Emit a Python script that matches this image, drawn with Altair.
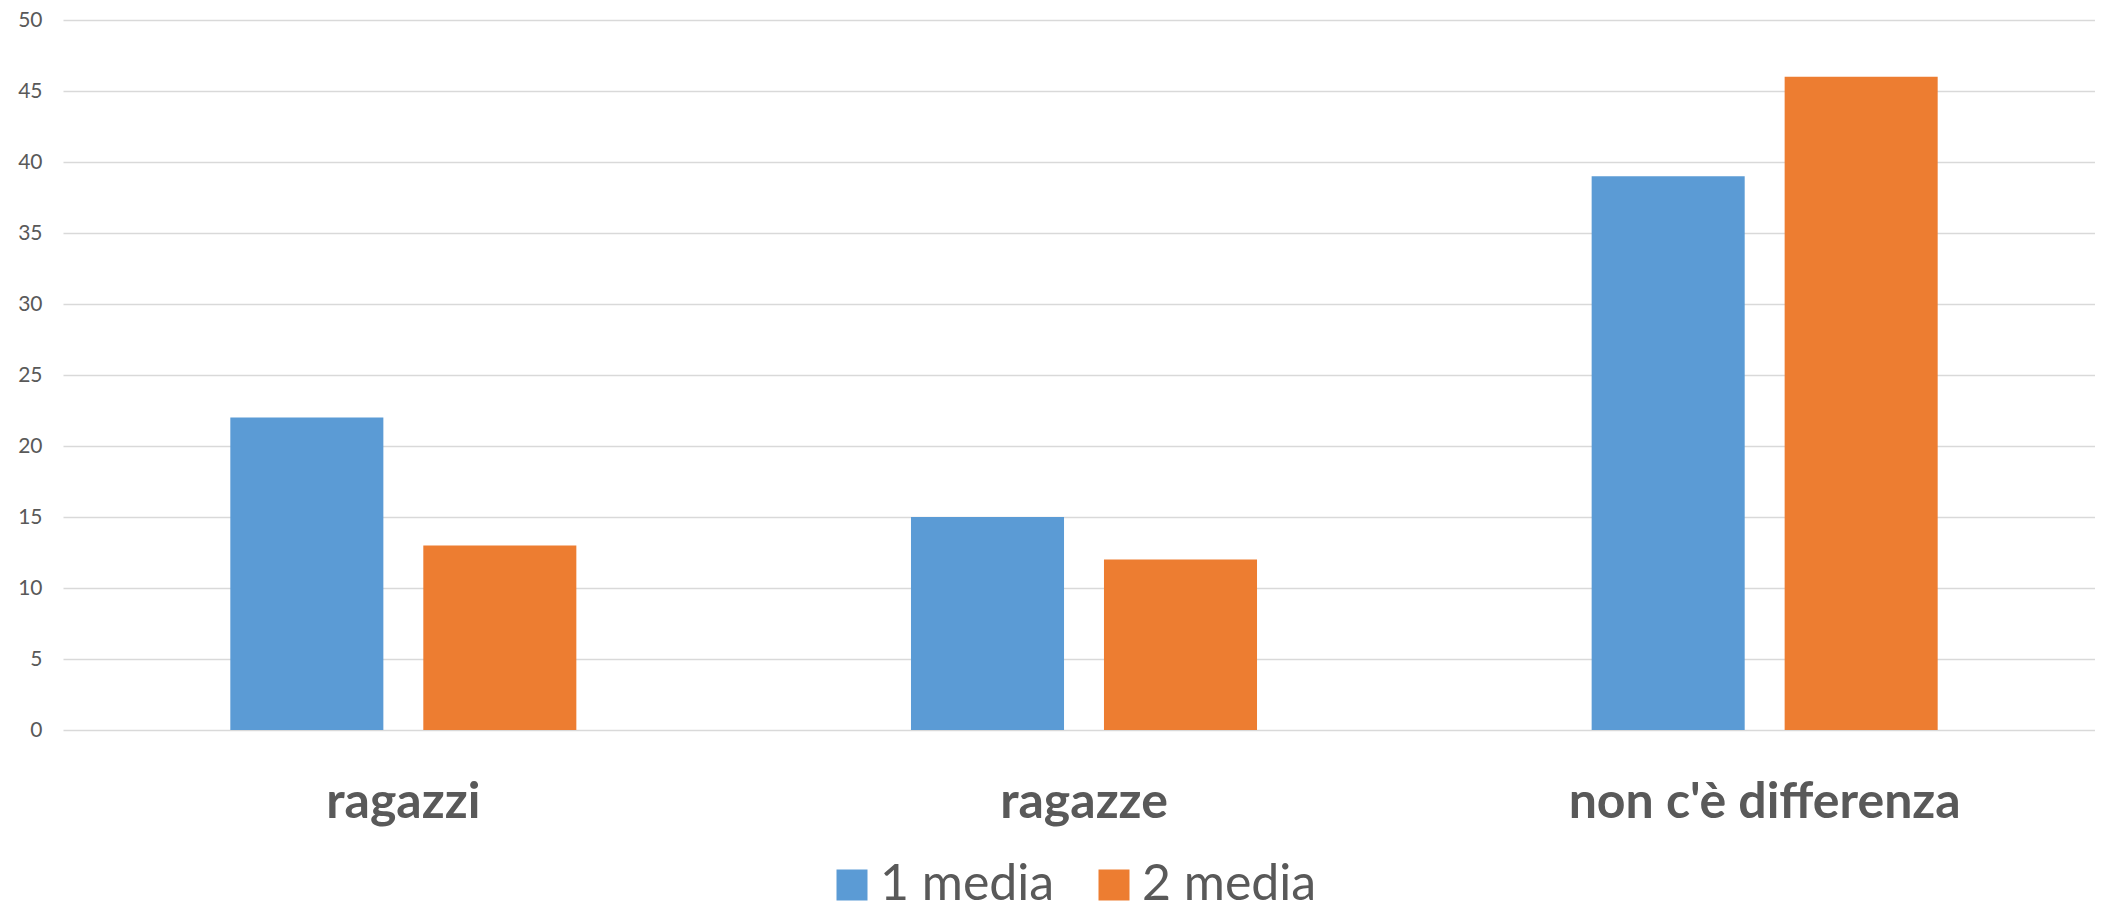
import altair as alt
import pandas as pd

categories = ["ragazzi", "ragazze", "non c'è differenza"]
series = ["1 media", "2 media"]
values_1 = [22, 15, 39]
values_2 = [13, 12, 46]
colors = ["#5B9BD5", "#ED7D31"]
y_ticks = [0, 5, 10, 15, 20, 25, 30, 35, 40, 45, 50]

rows = []
for c, v in zip(categories, values_1):
    rows.append({"cat": c, "serie": series[0], "val": v})
for c, v in zip(categories, values_2):
    rows.append({"cat": c, "serie": series[1], "val": v})
df = pd.DataFrame(rows)

FONT = "Lato"
GREY = "#595959"

chart = (
    alt.Chart(df)
    .mark_bar()
    .encode(
        x=alt.X(
            "cat:N",
            sort=categories,
            title=None,
            scale=alt.Scale(paddingInner=0, paddingOuter=0, range=[0, 2042]),
            axis=alt.Axis(
                labelAngle=0,
                labelFont=FONT,
                labelFontSize=50,
                labelFontWeight="bold",
                labelColor=GREY,
                labelPadding=87,
                labelBaseline="alphabetic",
                ticks=False,
                tickSize=0,
                domain=False,
                grid=False,
                labelLimit=1000,
            ),
        ),
        xOffset=alt.XOffset(
            "serie:N",
            sort=series,
            scale=alt.Scale(paddingInner=0.207, paddingOuter=0.867),
        ),
        y=alt.Y(
            "val:Q",
            title=None,
            scale=alt.Scale(domain=[0, 50], nice=False),
            axis=alt.Axis(
                values=y_ticks,
                labelFont=FONT,
                labelFontSize=21,
                labelColor=GREY,
                labelPadding=21,
                ticks=False,
                domain=False,
                grid=True,
                gridColor="#D9D9D9",
                gridWidth=1.5,
            ),
        ),
        color=alt.Color(
            "serie:N",
            sort=series,
            scale=alt.Scale(domain=series, range=colors),
            legend=alt.Legend(
                title=None,
                orient="none",
                direction="horizontal",
                legendX=764,
                legendY=840,
                symbolType="square",
                symbolSize=961,
                symbolStrokeWidth=0,
                labelFont=FONT,
                labelFontSize=50,
                labelColor=GREY,
                labelOffset=3,
                labelLimit=1000,
                columnPadding=34,
                padding=0,
            ),
        ),
    )
    .properties(
        width=2030,
        height=710,
        autosize=alt.AutoSizeParams(type="none"),
        padding={"left": 55, "top": 12, "right": 2, "bottom": 172},
    )
    .configure_view(stroke=None)
)

chart.save("out.html", embed_options={"renderer": "svg", "actions": False})
